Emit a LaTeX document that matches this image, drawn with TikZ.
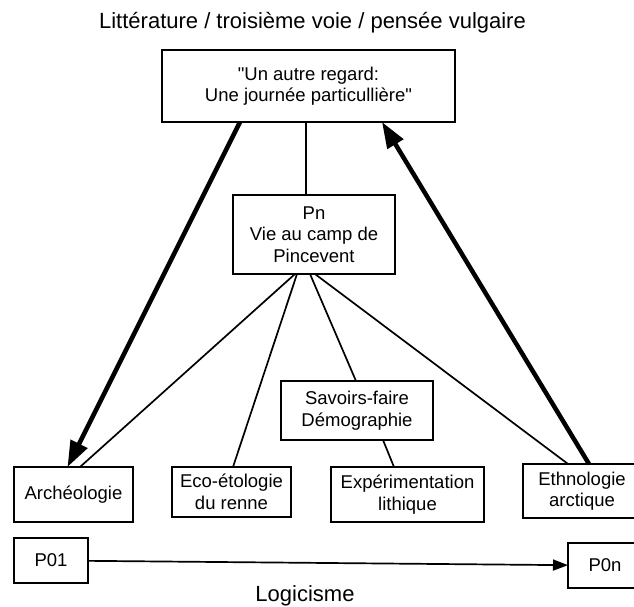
\documentclass[tikz,border=0pt]{standalone}
\usepackage{fontspec}
\setmainfont{Liberation Sans}[Ligatures=TeXOff]
\usetikzlibrary{arrows.meta}
\begin{document}
\begin{tikzpicture}[x=1pt,y=-1pt,
  box/.style={draw=black, line width=1.8pt, inner sep=0pt, outer sep=0pt, align=center,
    font=\fontsize{18.5}{21.5}\selectfont},
  thinline/.style={line width=1.7pt},
  bigarrow/.style={line width=4.5pt, -{Triangle[length=26pt,width=18pt]}},
  smallarrow/.style={line width=1.7pt, -{Triangle[length=15pt,width=11pt]}},
  lbl/.style={font=\fontsize{22}{26}\selectfont, anchor=base, inner sep=0pt}
]
\useasboundingbox (0,0) rectangle (634,607);

\node[lbl] (title) at (312.5,29) {Littérature / troisième voie / pensée vulgaire};
\node[lbl] (logic) at (305,601) {Logicisme};

\node[box, minimum width=293pt, minimum height=72pt] (top) at (308.5,86) {"Un autre regard:\\Une journée particullière"};
\node[box, minimum width=162pt, minimum height=79pt] (Pn) at (314,234.5) {Pn\\Vie au camp de\\Pincevent};
\node[box, minimum width=152pt, minimum height=59pt] (sav) at (357,410.5) {Savoirs-faire\\Démographie};
\node[box, minimum width=119pt, minimum height=55pt] (arch) at (73.5,494.5) {Archéologie};
\node[box, minimum width=119pt, minimum height=50pt] (eco) at (231.5,492) {Eco-étologie\\du renne};
\node[box, minimum width=153pt, minimum height=55pt] (exp) at (407.5,494.5) {Expérimentation\\lithique};
\node[box, minimum width=118pt, minimum height=54pt] (eth) at (582,491) {Ethnologie\\arctique};
\node[box, minimum width=74pt, minimum height=45pt] (p01) at (51,560.5) {P01};
\node[box, minimum width=74pt, minimum height=45pt] (p0n) at (605,565.5) {P0n};

\draw[thinline] ([xshift=-2.5pt]top.south) -- ([xshift=-8pt]Pn.north);
\draw[thinline] ([xshift=-19pt]Pn.south) -- ([xshift=6.5pt]arch.north);
\draw[thinline] ([xshift=-17pt]Pn.south) -- ([xshift=1.5pt]eco.north);
\draw[thinline] ([xshift=-4pt]Pn.south) -- ([xshift=-1pt]sav.north);
\draw[thinline] ([xshift=1pt]Pn.south) -- ([xshift=-14pt]eth.north);
\draw[thinline] ([xshift=26pt]sav.south) -- ([xshift=-13.5pt]exp.north);
\draw[bigarrow] ([xshift=-68.5pt]top.south) -- ([xshift=-6pt]arch.north);
\draw[bigarrow] ([xshift=7pt]eth.north) -- ([xshift=73.5pt]top.south);
\draw[smallarrow] (p01) -- (p0n);
\end{tikzpicture}
\end{document}
